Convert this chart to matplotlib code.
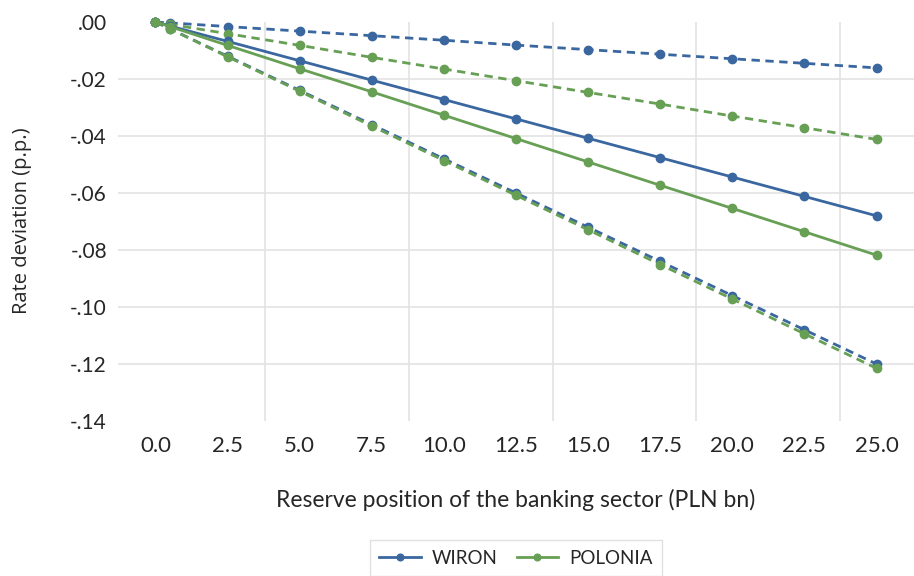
import matplotlib.pyplot as plt
from matplotlib.ticker import FuncFormatter

# reserve position of the banking sector (PLN bn)
x = [0, 0.5, 2.5, 5.0, 7.5, 10.0, 12.5, 15.0, 17.5, 20.0, 22.5, 25.0]

# rate deviation (p.p.)
wiron_mid = [0, -0.0014, -0.0068, -0.0136, -0.0204, -0.0272, -0.0340,
             -0.0408, -0.0476, -0.0544, -0.0612, -0.0680]
polonia_mid = [0, -0.0016, -0.0082, -0.0164, -0.0245, -0.0327, -0.0409,
               -0.0491, -0.0573, -0.0654, -0.0736, -0.0818]
wiron_low = [0, -0.0003, -0.0016, -0.0032, -0.0048, -0.0064, -0.0081,
             -0.0097, -0.0113, -0.0129, -0.0145, -0.0161]
polonia_low = [0, -0.0008, -0.0041, -0.0082, -0.0124, -0.0165, -0.0206,
               -0.0247, -0.0288, -0.0330, -0.0371, -0.0412]
wiron_high = [0, -0.0024, -0.0120, -0.0240, -0.0360, -0.0480, -0.0600,
              -0.0720, -0.0840, -0.0960, -0.1080, -0.1200]
polonia_high = [0, -0.0024, -0.0122, -0.0243, -0.0365, -0.0486, -0.0608,
                -0.0729, -0.0851, -0.0972, -0.1094, -0.1215]

xticks = [0, 2.5, 5, 7.5, 10, 12.5, 15, 17.5, 20, 22.5, 25]
yticks = [0, -0.02, -0.04, -0.06, -0.08, -0.10, -0.12, -0.14]
xgrid = [3.8, 8.8, 13.77, 18.75, 23.73]

blue = "#3b67a0"
green = "#67a055"
grid_col = "#e3e3e3"

plt.rcParams["font.family"] = ["Lato", "DejaVu Sans"]

fig = plt.figure(figsize=(9.14, 5.76), dpi=100)
ax = fig.add_axes([118 / 914, 1 - 421 / 576, 796 / 914, 399 / 576])

for v in yticks[1:-1]:
    ax.axhline(v, color=grid_col, lw=1.2, zorder=0)
for v in xgrid:
    ax.axvline(v, color=grid_col, lw=1.2, zorder=0)

line_kw = dict(lw=2.0, marker="o", markersize=6, clip_on=False, zorder=3)
dash = (0, (3, 2))

ax.plot(x, wiron_low, color=blue, ls=dash, **line_kw)
ax.plot(x, polonia_low, color=green, ls=dash, **line_kw)
ax.plot(x, wiron_high, color=blue, ls=dash, **line_kw)
ax.plot(x, polonia_high, color=green, ls=dash, **line_kw)
ax.plot(x, wiron_mid, color=blue, label="WIRON", **line_kw)
ax.plot(x, polonia_mid, color=green, label="POLONIA", **line_kw)

ax.set_xlim(-1.30, 26.30)
ax.set_ylim(-0.14, 0)
ax.set_xticks(xticks)
ax.set_xticklabels([f"{v:.1f}" for v in xticks])
ax.set_yticks(yticks)
ax.yaxis.set_major_formatter(FuncFormatter(lambda v, p: f"{v:.2f}".replace("0.", ".", 1)))
ax.tick_params(axis="both", length=0, colors="#262626")
ax.tick_params(axis="x", pad=11, labelsize=16)
ax.tick_params(axis="y", pad=8, labelsize=15)
for s in ax.spines.values():
    s.set_visible(False)

fig.text(22 / 914, 1 - 221 / 576, "Rate deviation (p.p.)", rotation=90,
         ha="center", va="center", fontsize=14.5, color="#262626",
         family=["Open Sans", "DejaVu Sans"])
fig.text(516 / 914, 1 - 500 / 576, "Reserve position of the banking sector (PLN bn)",
         ha="center", va="center", fontsize=16.5, color="#262626")

leg = fig.legend(loc="upper center", bbox_to_anchor=(516 / 914, 1 - 531 / 576),
                 ncol=2, frameon=True, fancybox=False, fontsize=13.5,
                 handlelength=2.2, handletextpad=0.6, columnspacing=1.0,
                 borderpad=0.5, markerscale=0.8)
leg.get_frame().set_edgecolor("#d9d9d9")
leg.get_frame().set_linewidth(1.0)
for t in leg.get_texts():
    t.set_color("#262626")

fig.savefig("out.png", dpi=100)
